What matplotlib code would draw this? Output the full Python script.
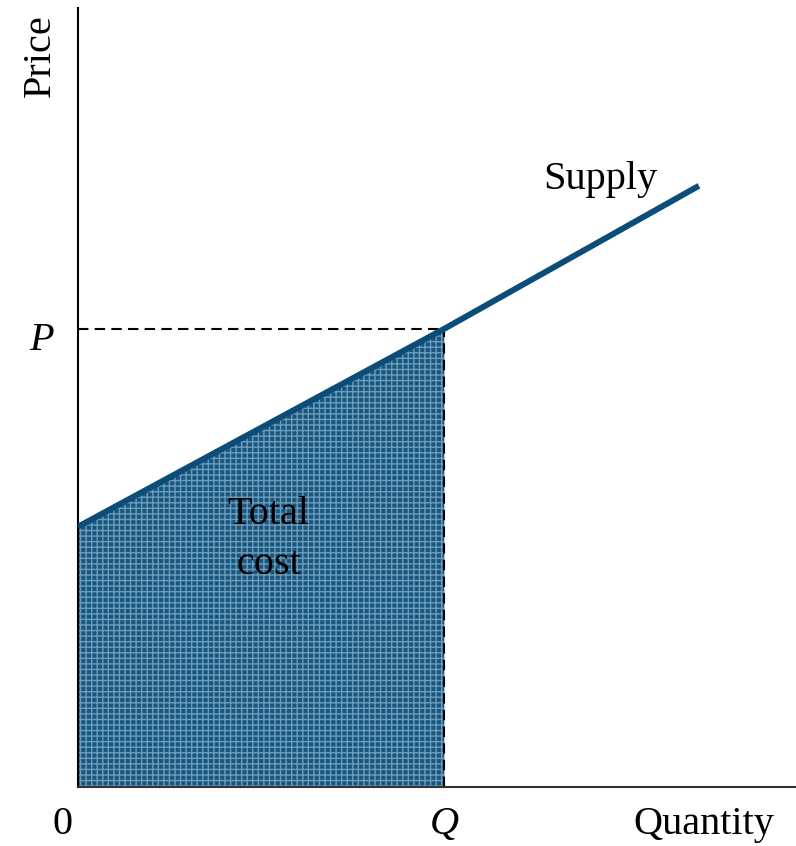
import matplotlib
matplotlib.use("Agg")
import matplotlib.pyplot as plt
import numpy as np

# Data
supply_x = [0.0, 10.0, 16.95]
supply_y = [5.68, 10.0, 13.12]
Q = 10.0
P = 10.0
x_max = 19.6
y_max = 17.0

plt.rcParams['font.family'] = ['Liberation Serif', 'DejaVu Serif']
plt.rcParams['hatch.linewidth'] = 1.0

fig = plt.figure(figsize=(7.96, 8.46), dpi=100)
ax = fig.add_axes([78/796, (846-787)/846, 718/796, (787-8)/846])
ax.set_xlim(0, x_max)
ax.set_ylim(0, y_max)
for s in ['top', 'right']:
    ax.spines[s].set_visible(False)
ax.spines['left'].set_linewidth(1.5)
ax.spines['bottom'].set_linewidth(1.5)
ax.spines['bottom'].set_color('#333333')
ax.set_xticks([])
ax.set_yticks([])

# Total cost area
xs = [0, Q]
ys = [supply_y[0], supply_y[1]]
ax.fill_between(xs, 0, ys, facecolor='#17587f', edgecolor='#6f9bbb', hatch='+++', linewidth=0, zorder=1)

# Dashed lines
ax.plot([0, Q], [P, P], color='black', linestyle=(0, (5, 3)), linewidth=1.5, zorder=2)
ax.plot([Q, Q], [0, P], color='black', linestyle=(0, (5, 3)), linewidth=1.5, zorder=2)

# Supply curve
ax.plot(supply_x, supply_y, color='#0b4d78', linewidth=4.3, solid_capstyle='butt', zorder=3)

fs = 29
ax.text(14.26, 13.25, 'Supply', fontsize=fs, ha='center', va='center')
ax.text(5.2, 5.95, 'Total', fontsize=fs, ha='center', va='center', zorder=4)
ax.text(5.2, 4.85, 'cost', fontsize=fs, ha='center', va='center', zorder=4)

fig.text(40/796, 1 - 56/846, 'Price', fontsize=fs, rotation=90, ha='center', va='center')
fig.text(42/796, 1 - 340/846, 'P', fontsize=fs, style='italic', ha='center', va='center')
fig.text(444/796, 1 - 824/846, 'Q', fontsize=fs, style='italic', ha='center', va='center')
fig.text(62/796, 1 - 824/846, '0', fontsize=fs, ha='center', va='center')
fig.text(704/796, 1 - 824/846, 'Quantity', fontsize=fs, ha='center', va='center')

fig.savefig('out.png', dpi=100)
